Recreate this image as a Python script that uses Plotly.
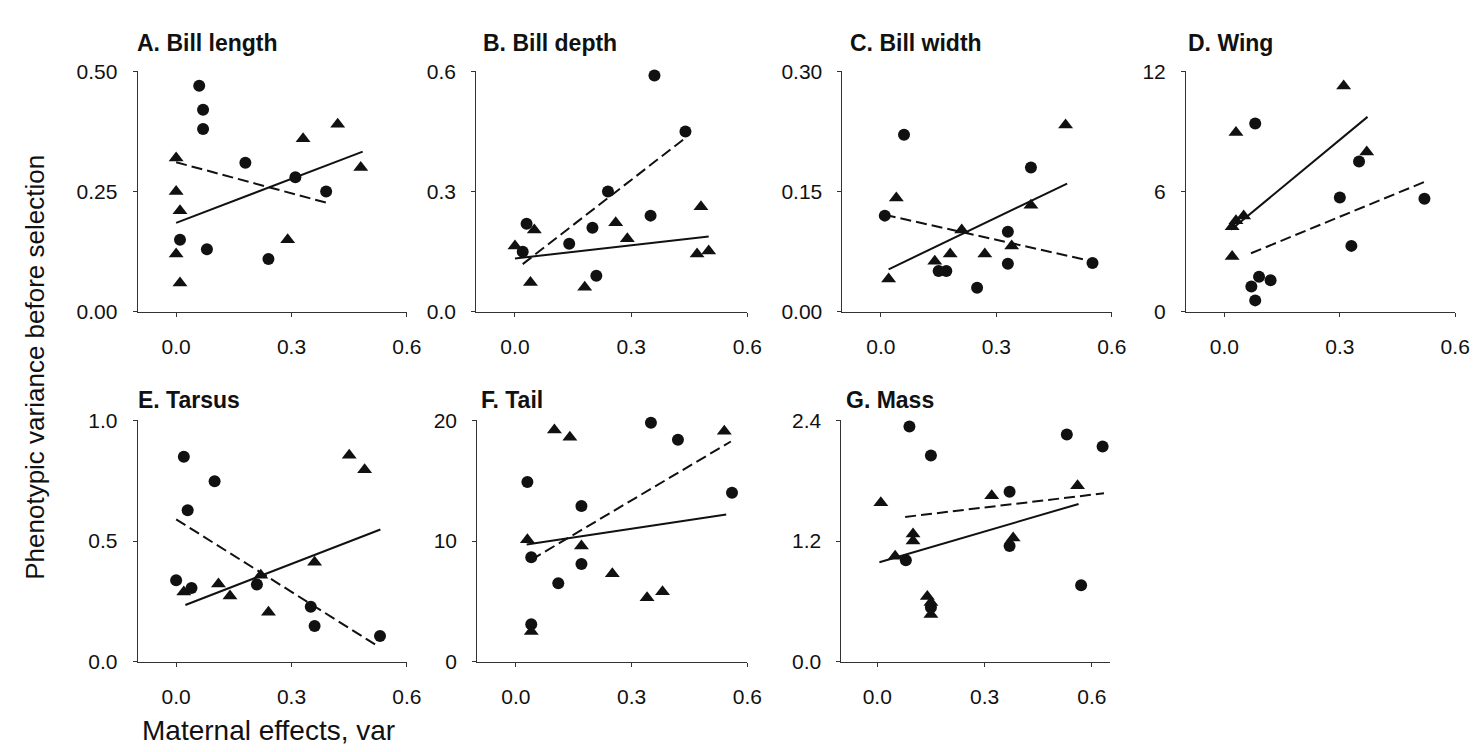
import plotly.graph_objects as go
from plotly.subplots import make_subplots

# ---- data (x = maternal effects, y = phenotypic variance) ----
# circles / triangles are the two groups; solid & dashed are their fitted lines (end points)
A_circ_x = [0.06, 0.07, 0.07, 0.18, 0.31, 0.39, 0.01, 0.08, 0.24]
A_circ_y = [0.47, 0.42, 0.38, 0.31, 0.28, 0.25, 0.15, 0.13, 0.11]
A_tri_x = [0.0, 0.0, 0.01, 0.0, 0.01, 0.29, 0.33, 0.42, 0.48]
A_tri_y = [0.32, 0.25, 0.21, 0.12, 0.06, 0.15, 0.36, 0.39, 0.30]
A_solid_x, A_solid_y = [0.0, 0.485], [0.185, 0.333]
A_dash_x, A_dash_y = [0.0, 0.39], [0.311, 0.227]

B_circ_x = [0.36, 0.44, 0.24, 0.35, 0.03, 0.20, 0.14, 0.02, 0.21]
B_circ_y = [0.59, 0.45, 0.30, 0.24, 0.22, 0.21, 0.17, 0.15, 0.09]
B_tri_x = [0.0, 0.05, 0.04, 0.18, 0.26, 0.29, 0.48, 0.47, 0.50]
B_tri_y = [0.164, 0.204, 0.073, 0.061, 0.222, 0.182, 0.262, 0.144, 0.152]
B_solid_x, B_solid_y = [0.0, 0.5], [0.133, 0.188]
B_dash_x, B_dash_y = [0.02, 0.44], [0.119, 0.434]

C_circ_x = [0.06, 0.01, 0.39, 0.33, 0.33, 0.15, 0.17, 0.25, 0.55]
C_circ_y = [0.221, 0.12, 0.18, 0.10, 0.06, 0.051, 0.051, 0.03, 0.061]
C_tri_x = [0.04, 0.02, 0.14, 0.18, 0.21, 0.27, 0.34, 0.39, 0.48]
C_tri_y = [0.142, 0.041, 0.063, 0.072, 0.102, 0.072, 0.082, 0.133, 0.233]
C_solid_x, C_solid_y = [0.02, 0.484], [0.053, 0.160]
C_dash_x, C_dash_y = [0.01, 0.55], [0.121, 0.063]

D_circ_x = [0.08, 0.35, 0.30, 0.52, 0.33, 0.09, 0.12, 0.07, 0.08]
D_circ_y = [9.4, 7.5, 5.7, 5.64, 3.29, 1.75, 1.57, 1.26, 0.57]
D_tri_x = [0.31, 0.03, 0.37, 0.05, 0.03, 0.02, 0.02]
D_tri_y = [11.27, 8.95, 7.98, 4.78, 4.54, 4.25, 2.76]
D_solid_x, D_solid_y = [0.017, 0.372], [4.09, 9.73]
D_dash_x, D_dash_y = [0.069, 0.526], [2.92, 6.53]

E_circ_x = [0.02, 0.10, 0.03, 0.0, 0.04, 0.21, 0.35, 0.36, 0.53]
E_circ_y = [0.849, 0.748, 0.628, 0.338, 0.306, 0.32, 0.228, 0.148, 0.107]
E_tri_x = [0.45, 0.49, 0.36, 0.11, 0.02, 0.14, 0.22, 0.24]
E_tri_y = [0.855, 0.795, 0.412, 0.322, 0.289, 0.272, 0.358, 0.205]
E_solid_x, E_solid_y = [0.024, 0.531], [0.235, 0.548]
E_dash_x, E_dash_y = [0.0, 0.522], [0.59, 0.067]

F_circ_x = [0.35, 0.42, 0.03, 0.56, 0.17, 0.04, 0.17, 0.11, 0.04]
F_circ_y = [19.8, 18.4, 14.9, 14.0, 12.9, 8.65, 8.1, 6.5, 3.1]
F_tri_x = [0.10, 0.14, 0.54, 0.03, 0.17, 0.25, 0.34, 0.38, 0.04]
F_tri_y = [19.2, 18.6, 19.1, 10.1, 9.6, 7.3, 5.3, 5.8, 2.5]
F_solid_x, F_solid_y = [0.028, 0.545], [9.72, 12.21]
F_dash_x, F_dash_y = [0.04, 0.557], [8.45, 18.25]

G_circ_x = [0.09, 0.53, 0.63, 0.15, 0.37, 0.37, 0.08, 0.57, 0.15]
G_circ_y = [2.34, 2.26, 2.14, 2.05, 1.69, 1.15, 1.01, 0.76, 0.54]
G_tri_x = [0.01, 0.32, 0.56, 0.10, 0.10, 0.38, 0.05, 0.14, 0.15, 0.15]
G_tri_y = [1.58, 1.65, 1.75, 1.27, 1.20, 1.23, 1.05, 0.65, 0.59, 0.47]
G_solid_x, G_solid_y = [0.006, 0.563], [0.989, 1.569]
G_dash_x, G_dash_y = [0.078, 0.634], [1.44, 1.675]

titles = ['A. Bill length', 'B. Bill depth', 'C. Bill width', 'D. Wing',
          'E. Tarsus', 'F. Tail', 'G. Mass']
y_ticks = [[0, 0.25, 0.5], [0, 0.3, 0.6], [0, 0.15, 0.3], [0, 6, 12],
           [0, 0.5, 1.0], [0, 10, 20], [0, 1.2, 2.4]]
y_fmt = ['.2f', '.1f', '.2f', 'd', '.1f', 'd', '.1f']
x_ticks = [0, 0.3, 0.6]
x_max = [0.6, 0.6, 0.6, 0.6, 0.6, 0.6, 0.65]

panels = [
    (A_circ_x, A_circ_y, A_tri_x, A_tri_y, A_solid_x, A_solid_y, A_dash_x, A_dash_y),
    (B_circ_x, B_circ_y, B_tri_x, B_tri_y, B_solid_x, B_solid_y, B_dash_x, B_dash_y),
    (C_circ_x, C_circ_y, C_tri_x, C_tri_y, C_solid_x, C_solid_y, C_dash_x, C_dash_y),
    (D_circ_x, D_circ_y, D_tri_x, D_tri_y, D_solid_x, D_solid_y, D_dash_x, D_dash_y),
    (E_circ_x, E_circ_y, E_tri_x, E_tri_y, E_solid_x, E_solid_y, E_dash_x, E_dash_y),
    (F_circ_x, F_circ_y, F_tri_x, F_tri_y, F_solid_x, F_solid_y, F_dash_x, F_dash_y),
    (G_circ_x, G_circ_y, G_tri_x, G_tri_y, G_solid_x, G_solid_y, G_dash_x, G_dash_y),
]

W, H = 1483, 752
# plot-area boxes in pixels (left, right) and rows (top, bottom)
cols_px = [(131, 403), (473, 747), (843, 1115), (1190, 1462),
           (131, 403), (474, 747), (842, 1113)]
rows_px = [(53, 301), (413, 662)]
title_left = [128, 478, 849, 1190, 129, 476, 845]
title_mid = [24, 392]

FONT = 'Liberation Sans, Arial, sans-serif'
INK = '#111111'

fig = make_subplots(rows=2, cols=4)

for i, (cx, cy, tx, ty, sx, sy, dx, dy) in enumerate(panels):
    r, c = i // 4 + 1, i % 4 + 1
    fig.add_trace(go.Scatter(x=sx, y=sy, mode='lines',
                             line=dict(color=INK, width=2)), row=r, col=c)
    fig.add_trace(go.Scatter(x=dx, y=dy, mode='lines',
                             line=dict(color=INK, width=2, dash='11px,5px')), row=r, col=c)
    fig.add_trace(go.Scatter(x=cx, y=cy, mode='markers', cliponaxis=False,
                             marker=dict(symbol='circle', size=12, color=INK)), row=r, col=c)
    fig.add_trace(go.Scatter(x=tx, y=ty, mode='markers', cliponaxis=False,
                             marker=dict(symbol='triangle-up', size=13, color=INK)), row=r, col=c)

axis_common = dict(showgrid=False, zeroline=False, showline=True, linecolor='#333',
                   linewidth=1, ticks='outside', ticklen=4, tickcolor='#333',
                   tickfont=dict(size=21, color='#111', family=FONT))

annotations = []
for i in range(7):
    row = i // 4
    l, rr = cols_px[i]
    t, b = rows_px[row]
    fig.layout[f'xaxis{i + 1}'].update(
        domain=[l / W, rr / W], range=[-0.1, x_max[i]], tickvals=x_ticks,
        tickformat='.1f', ticklabelstandoff=12, **axis_common)
    fig.layout[f'yaxis{i + 1}'].update(
        domain=[1 - b / H, 1 - t / H], range=[0, y_ticks[i][-1]], tickvals=y_ticks[i],
        tickformat=y_fmt[i], ticklabelstandoff=11, **axis_common)
    annotations.append(dict(text=f'<b>{titles[i]}</b>', xref='paper', yref='paper',
                            x=title_left[i] / W, y=1 - title_mid[row] / H,
                            xanchor='left', yanchor='middle', showarrow=False,
                            font=dict(size=23, color='#111', family=FONT)))

fig.layout['xaxis8'].update(visible=False)
fig.layout['yaxis8'].update(visible=False)

annotations.append(dict(text='Phenotypic variance before selection', textangle=-90,
                        xref='paper', yref='paper', x=27 / W, y=1 - 358 / H,
                        xanchor='center', yanchor='middle', showarrow=False,
                        font=dict(size=26, color='#111', family=FONT)))
annotations.append(dict(text='Maternal effects, var', xref='paper', yref='paper',
                        x=263 / W, y=1 - 733 / H, xanchor='center', yanchor='middle',
                        showarrow=False, font=dict(size=28, color='#111', family=FONT)))

fig.update_layout(width=W, height=H, margin=dict(l=0, r=0, t=0, b=0),
                  plot_bgcolor='white', paper_bgcolor='white', showlegend=False,
                  annotations=annotations, font=dict(family=FONT))

fig.write_html('out.html')
